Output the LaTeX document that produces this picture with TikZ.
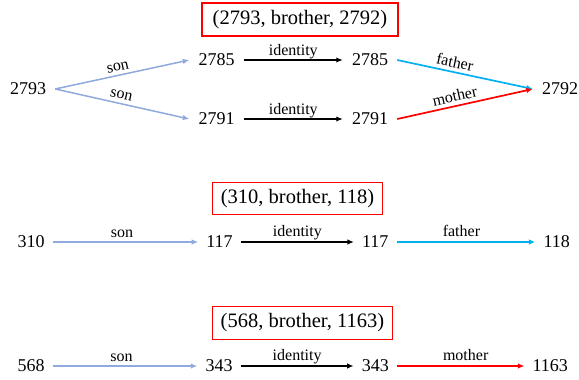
\documentclass[tikz,border=0pt]{standalone}
\usepackage{fontspec}
\setmainfont{Liberation Serif}
\usetikzlibrary{arrows.meta}
\definecolor{sonc}{HTML}{8FAADC}
\definecolor{fatherc}{HTML}{00B0F0}
\definecolor{motherc}{HTML}{FF0000}
\tikzset{
  numtop/.style={font=\fontsize{18}{18}\selectfont, inner xsep=9pt, inner ysep=0pt},
  numlow/.style={font=\fontsize{18}{18}\selectfont, inner xsep=8pt, inner ysep=0pt},
  rel/.style={line width=1.7pt, -{Latex[length=6.5pt,width=5.5pt]}},
  sonarrow/.style={rel, sonc, line width=1.5pt},
  idarrow/.style={rel, black},
  faarrow/.style={rel, fatherc},
  moarrow/.style={rel, motherc},
  lbltop/.style={font=\fontsize{16}{16}\selectfont, text=black, inner sep=0pt, above=1.5pt, text depth=0.22em},
  lbllow/.style={font=\fontsize{16}{16}\selectfont, text=black, inner sep=0pt, above=2pt, text depth=0.22em},
  triple/.style={draw=red, line width=1.2pt, inner sep=0pt, font=\fontsize{20.5}{20.5}\selectfont},
}
\begin{document}
\begin{tikzpicture}[x=1pt,y=-1pt]
\useasboundingbox (0,0) rectangle (579,380);
% top group
\node[triple, minimum width=196pt, minimum height=33pt] (t1) at (300,19.5) {(2793, brother, 2792)};
\node[numtop] (a) at (28,89) {2793};
\node[numtop] (b1) at (216.5,60) {2785};
\node[numtop] (b2) at (216.5,119) {2791};
\node[numtop] (c1) at (370,60) {2785};
\node[numtop] (c2) at (370,119) {2791};
\node[numtop] (d) at (560,89) {2792};
\draw[sonarrow] (a.east) -- node[lbltop, sloped, pos=0.48] {son} (b1.west);
\draw[sonarrow] (a.east) -- node[lbltop, sloped, pos=0.48] {son} (b2.west);
\draw[idarrow] (b1.east) -- node[lbltop] {identity} (c1.west);
\draw[idarrow] (b2.east) -- node[lbltop] {identity} (c2.west);
\draw[faarrow] (c1.east) -- node[lbltop, sloped, pos=0.41] {father} (d.west);
\draw[moarrow] (c2.east) -- node[lbltop, sloped, pos=0.44] {mother} (d.west);
% middle group
\node[triple, minimum width=170pt, minimum height=32pt] (t2) at (297.5,198.8) {(310, brother, 118)};
\node[numlow] (m1) at (31,242) {310};
\node[numlow] (m2) at (219.5,242) {117};
\node[numlow] (m3) at (375.3,242) {117};
\node[numlow] (m4) at (556.7,242) {118};
\draw[sonarrow] (m1.east) -- node[lbllow, pos=0.476] {son} (m2.west);
\draw[idarrow] (m2.east) -- node[lbllow] {identity} (m3.west);
\draw[faarrow] (m3.east) -- node[lbllow, pos=0.467] {father} (m4.west);
% bottom group
\node[triple, minimum width=180pt, minimum height=32.5pt] (t3) at (302.5,323) {(568, brother, 1163)};
\node[numlow] (l1) at (31,366) {568};
\node[numlow] (l2) at (219,366) {343};
\node[numlow] (l3) at (375.3,366) {343};
\node[numlow] (l4) at (550.3,366) {1163};
\draw[sonarrow] (l1.east) -- node[lbllow, pos=0.476] {son} (l2.west);
\draw[idarrow] (l2.east) -- node[lbllow] {identity} (l3.west);
\draw[moarrow] (l3.east) -- node[lbllow, pos=0.539] {mother} (l4.west);
\end{tikzpicture}
\end{document}
